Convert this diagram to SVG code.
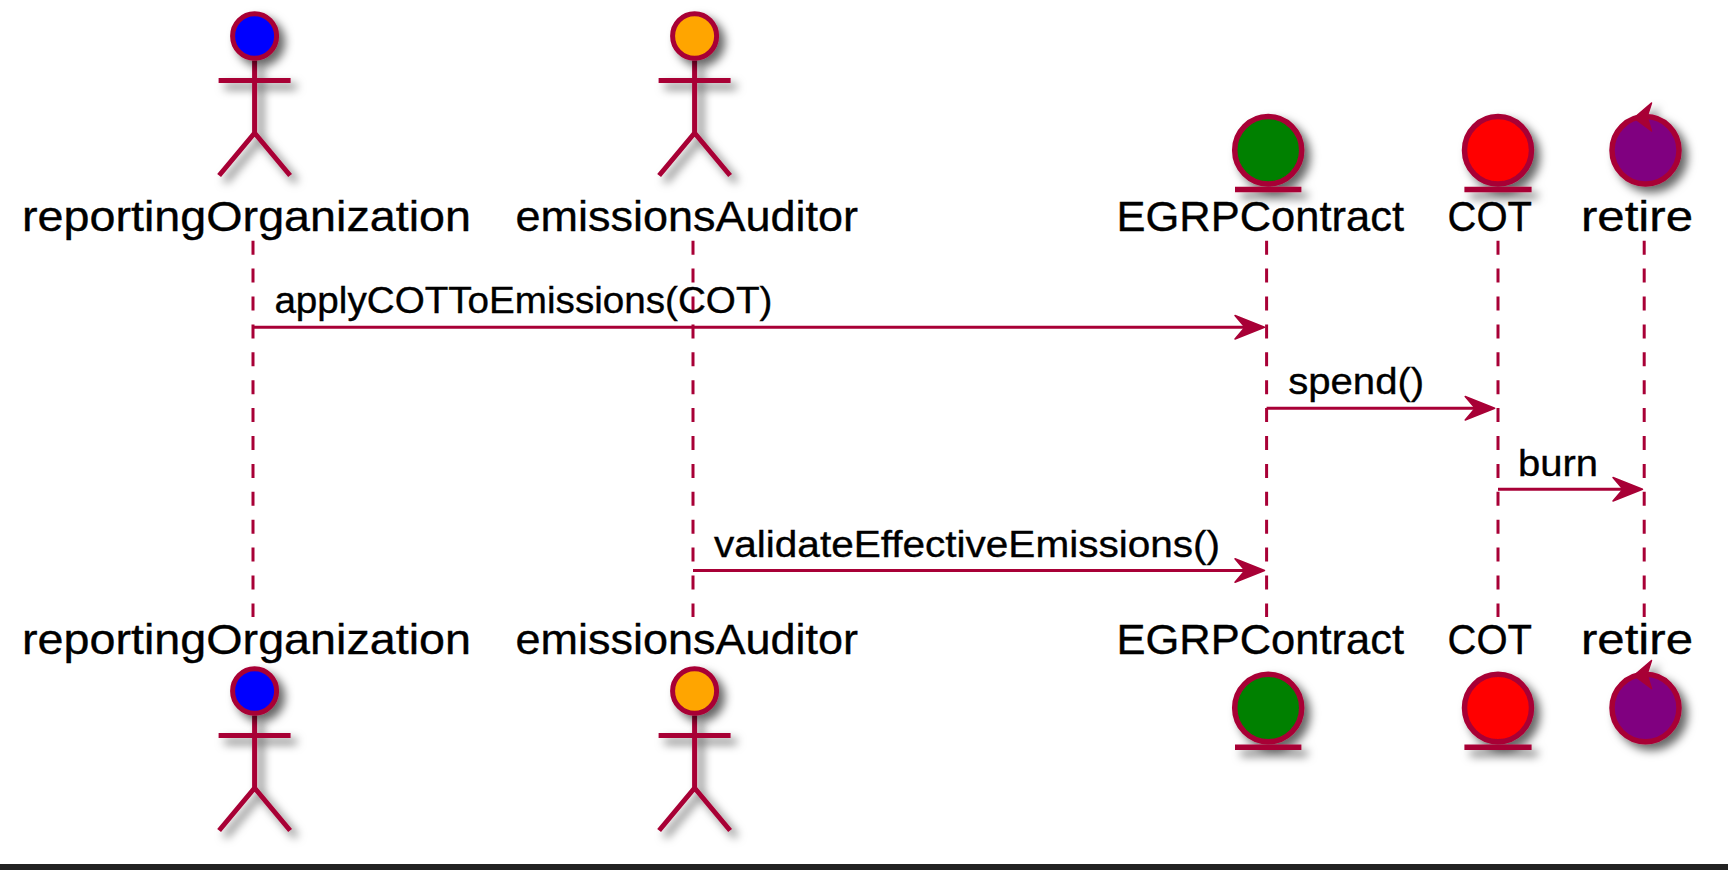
<svg xmlns="http://www.w3.org/2000/svg" width="1728" height="870" viewBox="0 0 1728 870">
<defs>
<style>
text{font-family:"Liberation Sans",Arial,sans-serif;fill:#000;stroke:#000;stroke-width:.35px}
.p{font-size:42px}
.m{font-size:36px}
.st{fill:none;stroke:#A80036;stroke-width:5}
.life{stroke:#A80036;stroke-width:3;stroke-dasharray:14 13.9;fill:none}
.msg{stroke:#A80036;stroke-width:3;fill:none}
.hd{fill:#A80036;stroke:#A80036;stroke-width:1.5;stroke-linejoin:round}
.sh{filter:url(#s)}
</style>
<filter id="s" x="-30%" y="-30%" width="170%" height="170%"><feDropShadow dx="6" dy="6" stdDeviation="5" flood-color="#000" flood-opacity="0.6"/></filter>
<g id="actorShape"><g class="sh"><path class="st" d="M0 24.5V97M-36 44.5H36M0 97L-35.5 139.5M0 97L35.5 139.5"/></g></g>
</defs>
<rect width="1728" height="870" fill="#fff"/>
<g id="connectors">
<path class="life" d="M253 240.7V617"/><path class="life" d="M693 240.7V617"/><path class="life" d="M1266.6 240.7V617"/><path class="life" d="M1498 240.7V617"/><path class="life" d="M1644.2 240.7V617"/>
<path class="msg" d="M253 327.3H1250"/><polygon class="hd" points="1264.5,327.3 1235,315.5 1245,327.3 1235,339"/>
<path class="msg" d="M1266.6 408.3H1480"/><polygon class="hd" points="1494.7,408.3 1465.2,396.5 1475.2,408.3 1465.2,420"/>
<path class="msg" d="M1498 489.3H1626"/><polygon class="hd" points="1642.5,489.3 1613,477.5 1623,489.3 1613,501"/>
<path class="msg" d="M693 570.5H1250"/><polygon class="hd" points="1264.5,570.5 1235,558.7 1245,570.5 1235,582.2"/>
</g>
<g id="labels">
<text class="m" x="274.4" y="312.5" textLength="498" lengthAdjust="spacingAndGlyphs">applyCOTToEmissions(COT)</text>
<text class="m" x="1288.2" y="393.5" textLength="136" lengthAdjust="spacingAndGlyphs">spend()</text>
<text class="m" x="1518" y="475.5" textLength="80" lengthAdjust="spacingAndGlyphs">burn</text>
<text class="m" x="714" y="556.5" textLength="506" lengthAdjust="spacingAndGlyphs">validateEffectiveEmissions()</text>
</g>
<g id="reportingOrganization">
<use href="#actorShape" x="254.6" y="36"/><ellipse class="sh" cx="254.6" cy="36" rx="22" ry="22.3" fill="#0000FF" stroke="#A80036" stroke-width="5"/>
<text class="p" x="22" y="230.5" textLength="449" lengthAdjust="spacingAndGlyphs">reportingOrganization</text>
<text class="p" x="22" y="654" textLength="449" lengthAdjust="spacingAndGlyphs">reportingOrganization</text>
<use href="#actorShape" x="254.6" y="691"/><ellipse class="sh" cx="254.6" cy="691" rx="22" ry="22.3" fill="#0000FF" stroke="#A80036" stroke-width="5"/>
</g>
<g id="emissionsAuditor">
<use href="#actorShape" x="694.6" y="36"/><ellipse class="sh" cx="694.6" cy="36" rx="22" ry="22.3" fill="#FFA500" stroke="#A80036" stroke-width="5"/>
<text class="p" x="515.5" y="230.5" textLength="342.5" lengthAdjust="spacingAndGlyphs">emissionsAuditor</text>
<text class="p" x="515.5" y="654" textLength="342.5" lengthAdjust="spacingAndGlyphs">emissionsAuditor</text>
<use href="#actorShape" x="694.6" y="691"/><ellipse class="sh" cx="694.6" cy="691" rx="22" ry="22.3" fill="#FFA500" stroke="#A80036" stroke-width="5"/>
</g>
<g id="EGRPContract">
<g class="sh"><ellipse cx="1268.2" cy="150.3" rx="33.5" ry="33.7" fill="#008000" stroke="#A80036" stroke-width="5.5"/><path class="st" style="stroke-width:5.6" d="M1235 189.5H1301.4"/></g>
<text class="p" x="1116.5" y="230.5" textLength="287.5" lengthAdjust="spacingAndGlyphs">EGRPContract</text>
<text class="p" x="1116.5" y="654" textLength="287.5" lengthAdjust="spacingAndGlyphs">EGRPContract</text>
<g class="sh"><ellipse cx="1268.2" cy="708" rx="33.5" ry="33.7" fill="#008000" stroke="#A80036" stroke-width="5.5"/><path class="st" style="stroke-width:5.6" d="M1235 747.2H1301.4"/></g>
</g>
<g id="COT">
<g class="sh"><ellipse cx="1498" cy="150.3" rx="33.5" ry="33.7" fill="#FF0000" stroke="#A80036" stroke-width="5.5"/><path class="st" style="stroke-width:5.6" d="M1464.4 189.5H1531.6"/></g>
<text class="p" x="1447.5" y="230.5" textLength="84.5" lengthAdjust="spacingAndGlyphs">COT</text>
<text class="p" x="1447.5" y="654" textLength="84.5" lengthAdjust="spacingAndGlyphs">COT</text>
<g class="sh"><ellipse cx="1498" cy="708" rx="33.5" ry="33.7" fill="#FF0000" stroke="#A80036" stroke-width="5.5"/><path class="st" style="stroke-width:5.6" d="M1464.4 747.2H1531.6"/></g>
</g>
<g id="retire">
<g class="sh"><ellipse cx="1645.5" cy="150.3" rx="33.5" ry="33.7" fill="#800080" stroke="#A80036" stroke-width="5.5"/><polygon class="hd" points="1651.5,103 1634,118 1651.5,131 1647,117"/></g>
<text class="p" x="1581" y="230.5" textLength="112" lengthAdjust="spacingAndGlyphs">retire</text>
<text class="p" x="1581" y="654" textLength="112" lengthAdjust="spacingAndGlyphs">retire</text>
<g class="sh"><ellipse cx="1645.5" cy="708" rx="33.5" ry="33.7" fill="#800080" stroke="#A80036" stroke-width="5.5"/><polygon class="hd" points="1651.5,660.5 1634,675.5 1651.5,688.5 1647,674.5"/></g>
</g>
<rect x="0" y="864" width="1728" height="6" fill="#222222"/>
</svg>
